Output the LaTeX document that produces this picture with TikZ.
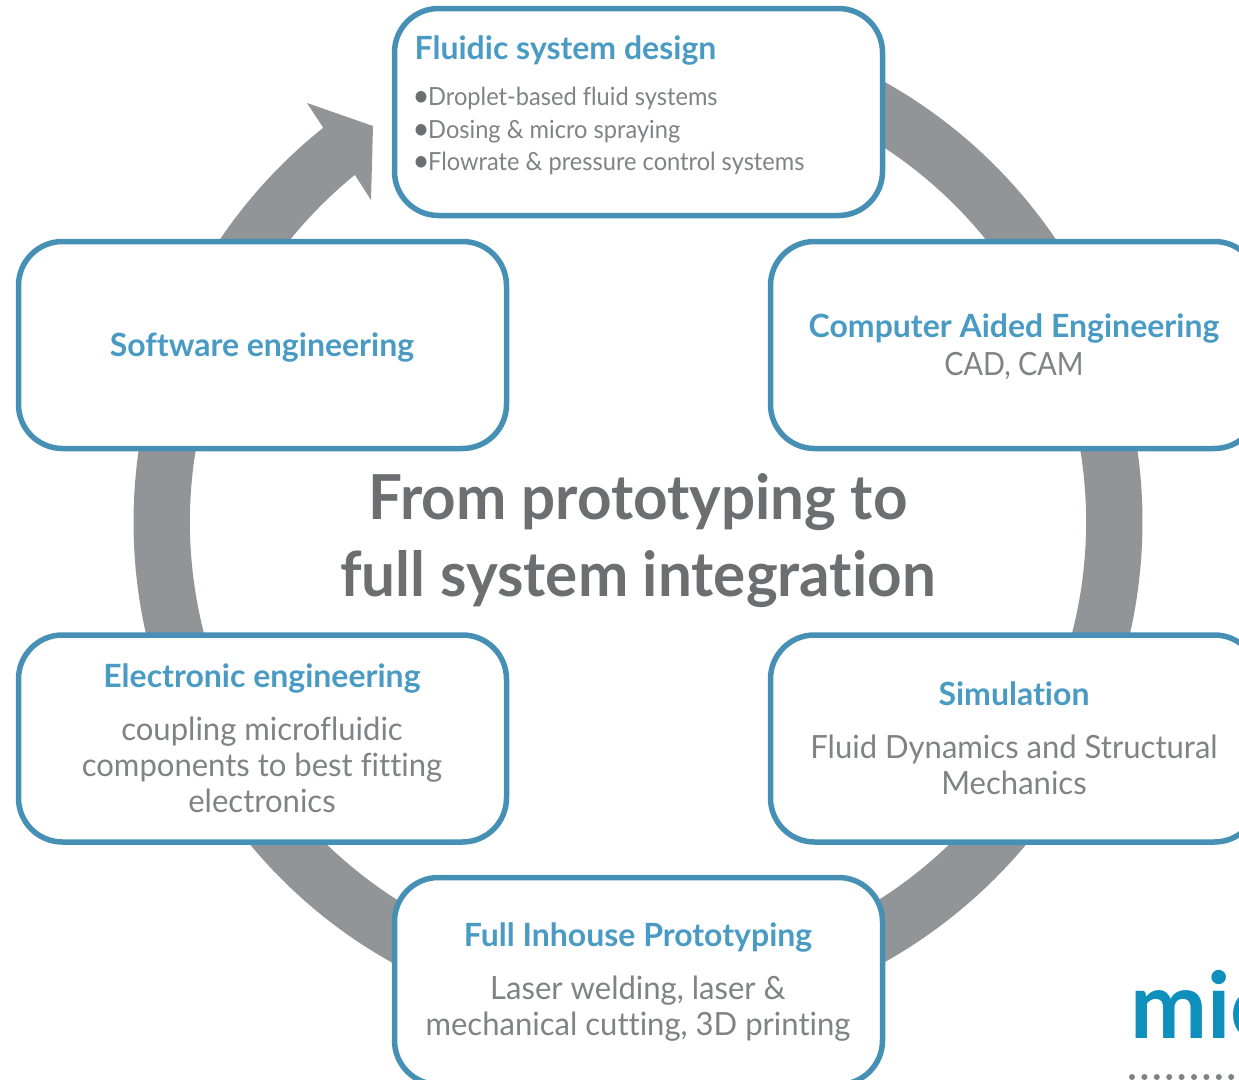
\documentclass[tikz,border=0pt]{standalone}
\usepackage{fontspec}
\setmainfont[Ligatures=NoCommon]{Lato}
\newfontfamily\bodyfont[Ligatures=NoCommon,FakeStretch=0.97]{Lato}
\newfontfamily\smallfont[Ligatures=NoCommon,FakeStretch=0.945]{Lato}
\newfontfamily\cadfont[Ligatures=NoCommon,FakeStretch=0.9]{Lato}
\newfontfamily\titlefont[Ligatures=NoCommon,FakeStretch=0.97]{Lato}
\definecolor{boxblue}{HTML}{4690B5}
\definecolor{headblue}{HTML}{4A9BC4}
\definecolor{bodygray}{HTML}{808285}
\definecolor{ringgray}{HTML}{929598}
\definecolor{titlegray}{HTML}{6D6E71}
\definecolor{logoblue}{HTML}{0F8FBC}
\newcommand{\bigdot}{\makebox[13pt][l]{\hspace{-2.5pt}\fontsize{31}{31}\selectfont\raisebox{-1.6pt}{\textcolor{titlegray}{•}}}}
\tikzset{
  stagebox/.style={draw=boxblue,line width=5.5pt,fill=white,rounded corners=44pt,minimum width=488pt,minimum height=207pt,inner sep=0pt},
  head/.style={text=headblue,anchor=base,inner sep=0pt,font=\fontsize{32}{32}\selectfont\bfseries},
  bodytext/.style={text=bodygray,anchor=base,inner sep=0pt,font=\bodyfont\fontsize{32}{32}\selectfont},
  cadtext/.style={text=bodygray,anchor=base,inner sep=0pt,font=\cadfont\fontsize{32}{32}\selectfont},
  smalltext/.style={text=bodygray,anchor=base west,inner sep=0pt,font=\smallfont\fontsize{25}{25}\selectfont},
  bigtitle/.style={text=titlegray,anchor=base,inner sep=0pt,font=\titlefont\fontsize{62}{62}\selectfont\bfseries},
}
\begin{document}
\begin{tikzpicture}[x=1pt,y=-1pt]
\useasboundingbox (0,0) rectangle (1239,1079);
\clip (0,0) rectangle (1239,1079);
% ring with arrow head
\fill[ringgray] ({638+504.5*cos(231.4)},{522+504.5*sin(231.4)}) arc[start angle=231.4,end angle=-70,radius=504.5]
  -- ({638+448*cos(-70)},{522+448*sin(-70)}) arc[start angle=-70,end angle=230.8,radius=448]
  -- (371,200) -- (373,126) -- (307,103) -- cycle;
% boxes
\node[stagebox] (fluidic) at (638.5,112) {};
\node[stagebox] (cae) at (1014.5,345) {};
\node[stagebox] (soft) at (262.5,345) {};
\node[stagebox] (elec) at (262.5,738.5) {};
\node[stagebox] (sim) at (1014.5,738.5) {};
\node[stagebox] (proto) at (638.5,981) {};
% fluidic
\node[head,anchor=base west] (t1) at (414.5,59) {Fluidic system design};
\node[smalltext] (t1a) at (415,105) {\bigdot Droplet-based fluid systems};
\node[smalltext] (t1b) at (415,138) {\bigdot Dosing \& micro spraying};
\node[smalltext] (t1c) at (415,170) {\bigdot Flowrate \& pressure control systems};
% cae
\node[head] (t2) at (1014,337) {Computer Aided Engineering};
\node[cadtext] (t2a) at (1014,375) {CAD, CAM};
% software
\node[head] (t3) at (262,356) {Software engineering};
% electronic
\node[head] (t4) at (262,687) {Electronic engineering};
\node[bodytext] (t4a) at (262,740) {coupling microfluidic};
\node[bodytext] (t4b) at (262,776) {components to best fitting};
\node[bodytext] (t4c) at (262,812) {electronics};
% simulation
\node[head] (t5) at (1014,705) {Simulation};
\node[bodytext] (t5a) at (1014,758) {Fluid Dynamics and Structural};
\node[bodytext] (t5b) at (1014,794) {Mechanics};
% prototyping
\node[head] (t6) at (638,946) {Full Inhouse Prototyping};
\node[bodytext] (t6a) at (638,999) {Laser welding, laser \&};
\node[bodytext] (t6b) at (638,1035) {mechanical cutting, 3D printing};
% centre
\node[bigtitle] (main1) at (638,519) {From prototyping to};
\node[bigtitle] (main2) at (638,596) {full system integration};
% logo
\node[anchor=base west,inner sep=0pt,text=logoblue,font=\fontsize{92}{92}\selectfont\bfseries] (logo) at (1130,1038) {mic};
\foreach \i in {0,...,9}{\fill[bodygray] (1132+\i*12.4,1077) circle (3);}
\end{tikzpicture}
\end{document}
